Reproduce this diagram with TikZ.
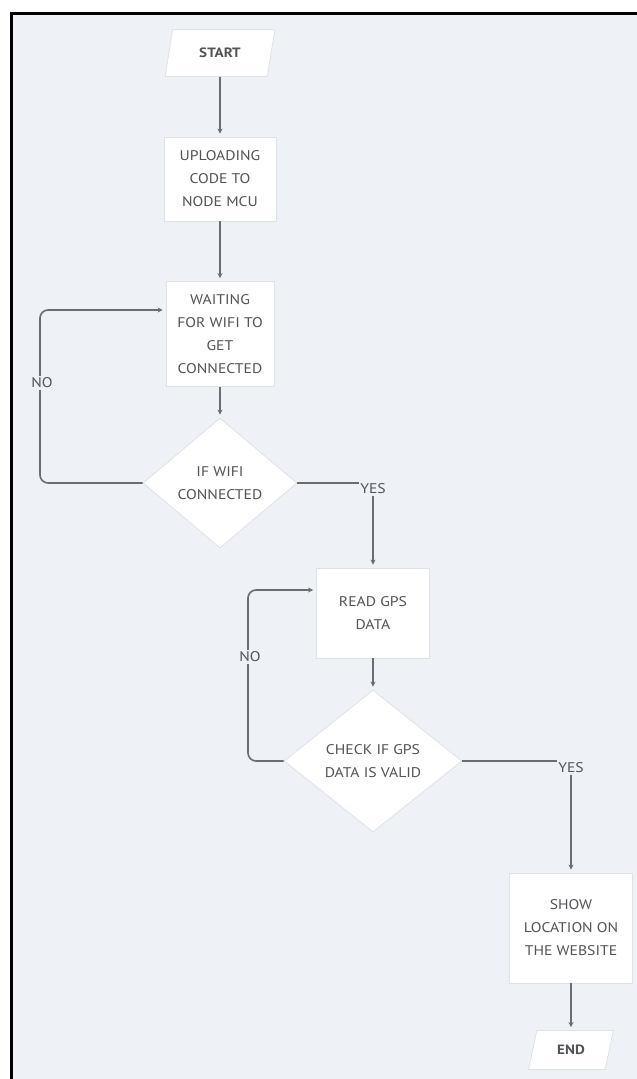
\documentclass[tikz,border=0pt]{standalone}
\usepackage{fontspec}
\setmainfont{PT Sans}[FakeStretch=1.12]
\usetikzlibrary{shapes.geometric,arrows.meta,calc}
\definecolor{bg}{HTML}{EEF2F6}
\definecolor{txt}{HTML}{505357}
\definecolor{ln}{HTML}{686D74}
\definecolor{bd}{HTML}{DDE2E8}
\tikzset{
  base/.style={fill=white, draw=bd, line width=0.8pt, text=txt, font=\fontsize{14}{23}\selectfont, align=center, inner sep=0pt},
  procbox/.style={base, rectangle, minimum width=#1},
  decbox/.style={base, diamond, aspect=1.2},
  termbox/.style={base, trapezium, trapezium left angle=71, trapezium right angle=109, trapezium stretches=true, font=\fontsize{13.5}{15}\selectfont\bfseries},
  conn/.style={draw=ln, line width=1.6pt},
  arr/.style={conn, -{Stealth[length=5pt,width=5pt]}, shorten >=3pt},
  lbl/.style={text=txt, font=\fontsize{14}{15}\selectfont, inner sep=1.5pt},
}
\begin{document}
\begin{tikzpicture}[x=1pt,y=-1pt]
\useasboundingbox (0,0) rectangle (637,1079);
\clip (0,0) rectangle (637,1079);
\fill[white] (0,0) rectangle (637,1079);
\draw[fill=bg, line width=3pt, draw=black] (11,13) rectangle (660,1100);

\node[termbox, minimum width=110pt, minimum height=47pt] (start) at (220,53) {START};
\node[procbox=112pt, minimum height=84pt] (upload) at (220,179) {UPLOADING\\CODE TO\\NODE MCU};
\node[procbox=108pt, minimum height=105pt] (wait) at (220,334) {WAITING\\FOR WIFI TO\\GET\\CONNECTED};
\node[decbox, minimum width=154pt, minimum height=130pt] (wifi) at (220,483) {IF WIFI\\CONNECTED};
\node[procbox=113pt, minimum height=90pt] (read) at (373,613) {READ GPS\\DATA};
\node[decbox, minimum width=178pt, minimum height=142pt] (check) at (373,761) {CHECK IF GPS\\DATA IS VALID};
\node[procbox=123pt, minimum height=110pt] (show) at (571,928) {SHOW\\LOCATION ON\\THE WEBSITE};
\node[termbox, minimum width=85pt, minimum height=39pt] (end) at (571,1050) {END};

\draw[arr] (start) -- (upload);
\draw[arr] (upload) -- (wait);
\draw[arr] (wait) -- (wifi);
\draw[arr] (read) -- (check);
\draw[arr] (show) -- (end);

% wifi loop
\draw[arr, rounded corners=8pt] (wifi.west) -- (40,483) -- (40,310) -- ([yshift=24pt]wait.west);
\node[lbl, fill=bg] (no1) at (42,383) {NO};
\node[lbl] (yes1) at (373,489) {YES};
\draw[conn] (wifi.east) -- (yes1.west |- wifi.east);
\draw[arr] (yes1.south) -- (read.north);

% check loop
\draw[arr, rounded corners=8pt] (check.west) -- (248,761) -- (248,590) -- ([yshift=23pt]read.west);
\node[lbl, fill=bg] (no2) at (250,657) {NO};
\node[lbl] (yes2) at (571,768) {YES};
\draw[conn] (check.east) -- (yes2.west |- check.east);
\draw[arr] (yes2.south) -- (show.north);
\end{tikzpicture}
\end{document}
